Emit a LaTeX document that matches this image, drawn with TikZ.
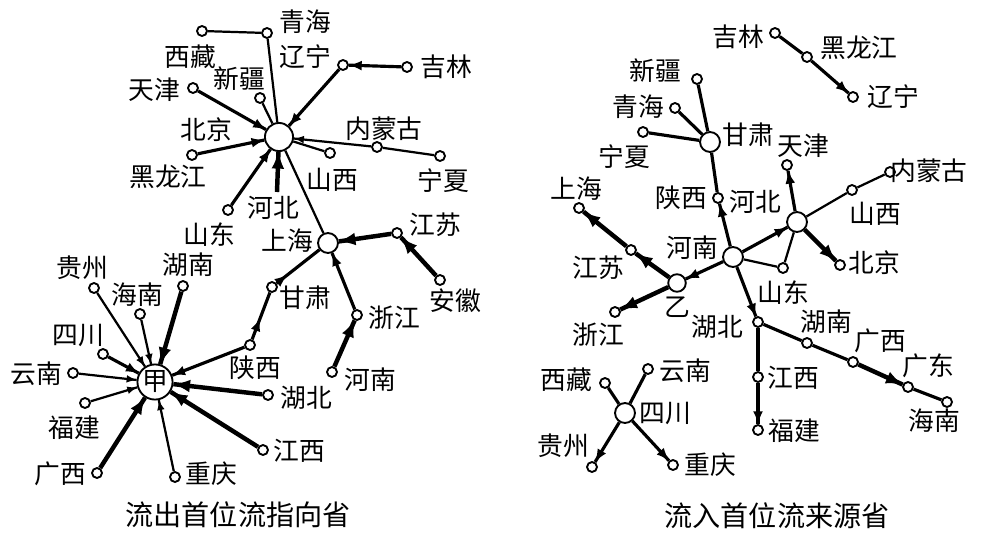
\documentclass[tikz,border=0pt]{standalone}
\usepackage{fontspec}
\newfontfamily\cjk{Noto Sans CJK SC}
\usetikzlibrary{decorations.markings}

\tikzset{
  city/.style={circle,draw,fill=white,line width=1.6pt,inner sep=0pt,minimum size=8.5pt},
  hub/.style={city,minimum size=#1},
  hub/.default=17pt,
  lbl/.style={font=\cjk\fontsize{22}{22}\selectfont,inner sep=0pt},
  caption/.style={font=\cjk\fontsize{24}{24}\selectfont,inner sep=0pt},
  link/.style={line width=1.9pt},
  wide/.style={line width=2.7pt},
  main/.style={line width=3.8pt},
  flow/.style={postaction={decorate},decoration={markings,mark=at position #1 with {\arrow{latex}}}},
  flow/.default=1,
}

\begin{document}
\begin{tikzpicture}[x=0.03cm,y=-0.03cm]
\useasboundingbox (0,0) rectangle (986,535);

% left: outflow
\node[hub=24pt] (bj) at (279,137) {};
\node[lbl] (bj-t) at (206,130) {北京};
\node[city] (xz) at (202,31) {};
\node[lbl] (xz-t) at (190,57) {西藏};
\node[city] (qh) at (267,33) {};
\node[lbl] (qh-t) at (305,22) {青海};
\node[city] (ln) at (343,65) {};
\node[lbl] (ln-t) at (305,57) {辽宁};
\node[city] (jl) at (407,67) {};
\node[lbl] (jl-t) at (446,67) {吉林};
\node[city] (xj) at (260,98) {};
\node[lbl] (xj-t) at (239,79) {新疆};
\node[city] (tj) at (193,88) {};
\node[lbl] (tj-t) at (154,90) {天津};
\node[city] (hlj) at (192,155) {};
\node[lbl] (hlj-t) at (168,177) {黑龙江};
\node[city] (nmg) at (377,147) {};
\node[lbl] (nmg-t) at (384,129) {内蒙古};
\node[city] (nx) at (440,156) {};
\node[lbl] (nx-t) at (443,181) {宁夏};
\node[city] (sx) at (330,153) {};
\node[lbl] (sx-t) at (332,180) {山西};
\coordinate (hb) at (277,192);
\node[lbl] (hb-t) at (273,208) {河北};
\node[city] (sd) at (228,210) {};
\node[lbl] (sd-t) at (209,235) {山东};
\node[hub] (sh) at (328,243) {};
\node[lbl] (sh-t) at (287,241) {上海};
\node[city] (js) at (397,233) {};
\node[lbl] (js-t) at (435,225) {江苏};
\node[city] (ah) at (440,280) {};
\node[lbl] (ah-t) at (455,301) {安徽};
\node[city] (zj) at (357,315) {};
\node[lbl] (zj-t) at (394,318) {浙江};
\node[city] (hen) at (332,372) {};
\node[lbl] (hen-t) at (370,380) {河南};
\node[city] (gs) at (272,287) {};
\node[lbl] (gs-t) at (305,298) {甘肃};
\node[city] (sn) at (250,345) {};
\node[lbl] (sn-t) at (255,368) {陕西};
\node[hub=30pt,font=\cjk\fontsize{22}{22}\selectfont] (jia) at (155,382) {甲};
\node[city] (gz) at (94,288) {};
\node[lbl] (gz-t) at (82,268) {贵州};
\node[city] (hain) at (140,314) {};
\node[lbl] (hain-t) at (137,295) {海南};
\node[city] (hun) at (183,286) {};
\node[lbl] (hun-t) at (188,265) {湖南};
\node[city] (sc) at (103,354) {};
\node[lbl] (sc-t) at (78,335) {四川};
\node[city] (yn) at (73,373) {};
\node[lbl] (yn-t) at (36,374) {云南};
\node[city] (fj) at (85,403) {};
\node[lbl] (fj-t) at (74,428) {福建};
\node[city] (gx) at (97,473) {};
\node[lbl] (gx-t) at (60,474) {广西};
\node[city] (cq) at (175,477) {};
\node[lbl] (cq-t) at (211,474) {重庆};
\node[city] (jx) at (263,450) {};
\node[lbl] (jx-t) at (299,451) {江西};
\node[city] (hub) at (268,395) {};
\node[lbl] (hub-t) at (306,398) {湖北};

\draw[link] (xz) -- (qh) -- (bj);
\draw[link] (xj) -- (bj);
\draw[link] (sx) -- (bj);
\draw[link] (nx) -- (nmg);
\draw[link] (sh) -- (bj);
\draw[wide,flow] (jl) -- (ln);
\foreach \s in {ln,tj,hlj,sd} \draw[wide,flow] (\s) -- (bj);
\draw[link,flow] (nmg) -- (bj);
\draw[main,flow] (hb) -- (bj);
\draw[main,flow] (js) -- (sh);
\draw[main,flow] (ah) -- (js);
\draw[wide,flow] (zj) -- (sh);
\draw[main,flow] (hen) -- (zj);
\draw[wide,flow=0.25] (gs) -- (sh);
\draw[wide,flow=0.45] (sn) -- (gs);
\draw[wide,flow] (sn) -- (jia);
\foreach \s in {gz,hain,yn,fj,cq} \draw[link,flow] (\s) -- (jia);
\draw[wide,flow] (sc) -- (jia);
\foreach \s in {hun,gx,jx,hub} \draw[main,flow] (\s) -- (jia);

\node[caption] (out-t) at (238,515) {流出首位流指向省};

% right: inflow
\node[city] (rjl) at (775,33) {};
\node[lbl] (rjl-t) at (738,37) {吉林};
\node[city] (rhlj) at (807,57) {};
\node[lbl] (rhlj-t) at (859,48) {黑龙江};
\node[city] (rln) at (853,97) {};
\node[lbl] (rln-t) at (893,97) {辽宁};
\node[hub] (rgs) at (710,142) {};
\node[lbl] (rgs-t) at (748,135) {甘肃};
\node[city] (rxj) at (697,79) {};
\node[lbl] (rxj-t) at (655,71) {新疆};
\node[city] (rqh) at (675,108) {};
\node[lbl] (rqh-t) at (638,107) {青海};
\node[city] (rnx) at (643,132) {};
\node[lbl] (rnx-t) at (624,157) {宁夏};
\node[city] (rhb) at (718,198) {};
\node[lbl] (rsn-t) at (681,198) {陕西};
\node[lbl] (rhb-t) at (755,202) {河北};
\node[hub] (rx) at (797,222) {};
\node[city] (rtj) at (787,165) {};
\node[lbl] (rtj-t) at (803,146) {天津};
\node[city] (rnmg) at (890,172) {};
\node[lbl] (rnmg-t) at (929,171) {内蒙古};
\node[city] (rsx) at (852,190) {};
\node[lbl] (rsx-t) at (875,214) {山西};
\node[city] (rbj) at (840,265) {};
\node[lbl] (rbj-t) at (874,263) {北京};
\node[hub] (rhen) at (733,257) {};
\node[lbl] (rhen-t) at (692,248) {河南};
\node[city] (rsd) at (783,268) {};
\node[lbl] (rsd-t) at (783,293) {山东};
\node[city] (rsh) at (579,208) {};
\node[lbl] (rsh-t) at (576,189) {上海};
\node[city] (rjs) at (631,250) {};
\node[lbl] (rjs-t) at (598,268) {江苏};
\node[hub=15pt] (ryi) at (677,283) {};
\node[lbl] (ryi-t) at (677,307) {乙};
\node[city] (rzj) at (615,312) {};
\node[lbl] (rzj-t) at (598,335) {浙江};
\node[city] (rhub) at (758,322) {};
\node[lbl] (rhub-t) at (717,327) {湖北};
\node[city] (rjx) at (758,377) {};
\node[lbl] (rjx-t) at (793,378) {江西};
\node[city] (rfj) at (758,430) {};
\node[lbl] (rfj-t) at (794,431) {福建};
\node[city] (rhun) at (807,343) {};
\node[lbl] (rhun-t) at (826,322) {湖南};
\node[city] (rgx) at (853,362) {};
\node[lbl] (rgx-t) at (880,341) {广西};
\node[city] (rgd) at (908,387) {};
\node[lbl] (rgd-t) at (928,366) {广东};
\node[city] (rhain) at (947,402) {};
\node[lbl] (rhain-t) at (934,421) {海南};
\node[hub] (rsc) at (625,413) {};
\node[lbl] (rsc-t) at (665,413) {四川};
\node[city] (rxz) at (605,383) {};
\node[lbl] (rxz-t) at (566,380) {西藏};
\node[city] (ryn) at (648,369) {};
\node[lbl] (ryn-t) at (685,371) {云南};
\node[city] (rgz) at (592,467) {};
\node[lbl] (rgz-t) at (563,446) {贵州};
\node[city] (rcq) at (673,465) {};
\node[lbl] (rcq-t) at (710,465) {重庆};

\draw[wide] (rjl) -- (rhlj);
\draw[wide,flow] (rhlj) -- (rln);
\foreach \s in {rxj,rqh,rnx,rhb} \draw[wide] (rgs) -- (\s);
\draw[wide,flow] (rhen) -- (rhb);
\draw[wide,flow] (rhen) -- (rx);
\draw[wide,flow] (rx) -- (rtj);
\draw[main,flow] (rx) -- (rbj);
\draw[link] (rx) -- (rsx) -- (rnmg);
\draw[link] (rx) -- (rsd) -- (rhen);
\draw[wide,flow] (rhen) -- (ryi);
\draw[main,flow] (ryi) -- (rjs);
\draw[main,flow] (rjs) -- (rsh);
\draw[main,flow] (ryi) -- (rzj);
\draw[wide,flow] (rhen) -- (rhub);
\draw[wide] (rhub) -- (rjx);
\draw[wide,flow] (rjx) -- (rfj);
\draw[wide] (rhub) -- (rhun) -- (rgx);
\draw[main,flow] (rgx) -- (rgd);
\draw[wide] (rgd) -- (rhain);
\draw[wide] (rsc) -- (rxz);
\draw[wide] (rsc) -- (ryn);
\draw[wide,flow] (rsc) -- (rgz);
\draw[wide,flow] (rsc) -- (rcq);

\node[caption] (in-t) at (777,516) {流入首位流来源省};
\end{tikzpicture}
\end{document}
